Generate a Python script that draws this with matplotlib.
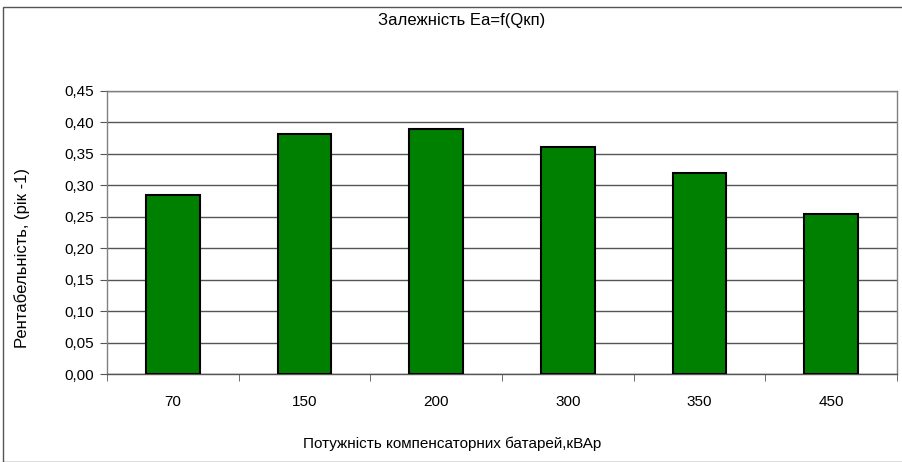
import matplotlib
matplotlib.use("Agg")
import matplotlib.pyplot as plt
from matplotlib.ticker import FuncFormatter, FixedLocator
from matplotlib.patches import Rectangle

categories = ["70", "150", "200", "300", "350", "450"]
values = [0.285, 0.382, 0.389, 0.361, 0.320, 0.255]

plt.rcParams['font.family'] = ['Liberation Sans', 'DejaVu Sans']

fig = plt.figure(figsize=(9.03, 4.62), dpi=100)
ax = fig.add_axes([107/903, 1-374/462, (897-107)/903, (374-91)/462])

x = list(range(len(categories)))
ax.bar(x, values, width=0.41, color="#008000", edgecolor="black", linewidth=1.5, zorder=3)

ax.set_xlim(-0.5, len(categories) - 0.5)
ax.set_ylim(0, 0.45)
ax.set_yticks([i * 0.05 for i in range(10)])
ax.yaxis.set_major_formatter(FuncFormatter(lambda v, p: f"{v:.2f}".replace(".", ",")))
ax.grid(axis="y", color="#555555", linewidth=1, zorder=0)

ax.set_xticks(x)
ax.set_xticklabels(categories)
ax.tick_params(axis="x", length=0, pad=15, labelsize=11)
ax.xaxis.set_minor_locator(FixedLocator([i - 0.5 for i in range(len(categories) + 1)]))
ax.tick_params(axis="x", which="minor", length=5, color="#555555", direction="out")
ax.tick_params(axis="y", length=5, color="#555555", labelsize=11, pad=4)

for s in ax.spines.values():
    s.set_color("#808080")
    s.set_linewidth(1)
ax.spines["bottom"].set_color("#555555")

fig.text(462/903, 1-21/462, "Залежність Ea=f(Qкп)", ha="center", va="center", fontsize=12)
fig.text(452/903, 1-444/462, "Потужність компенсаторних батарей,кВАр", ha="center", va="center", fontsize=11)
fig.text(22/903, 1-258/462, "Рентабельність, (рік -1)", ha="center", va="center", rotation=90, fontsize=12)

fig.patches.append(Rectangle((3/903, 0), 1.0, 1-7/462, transform=fig.transFigure,
                             fill=False, edgecolor="#555555", linewidth=1))

fig.savefig("out.png", dpi=100)
